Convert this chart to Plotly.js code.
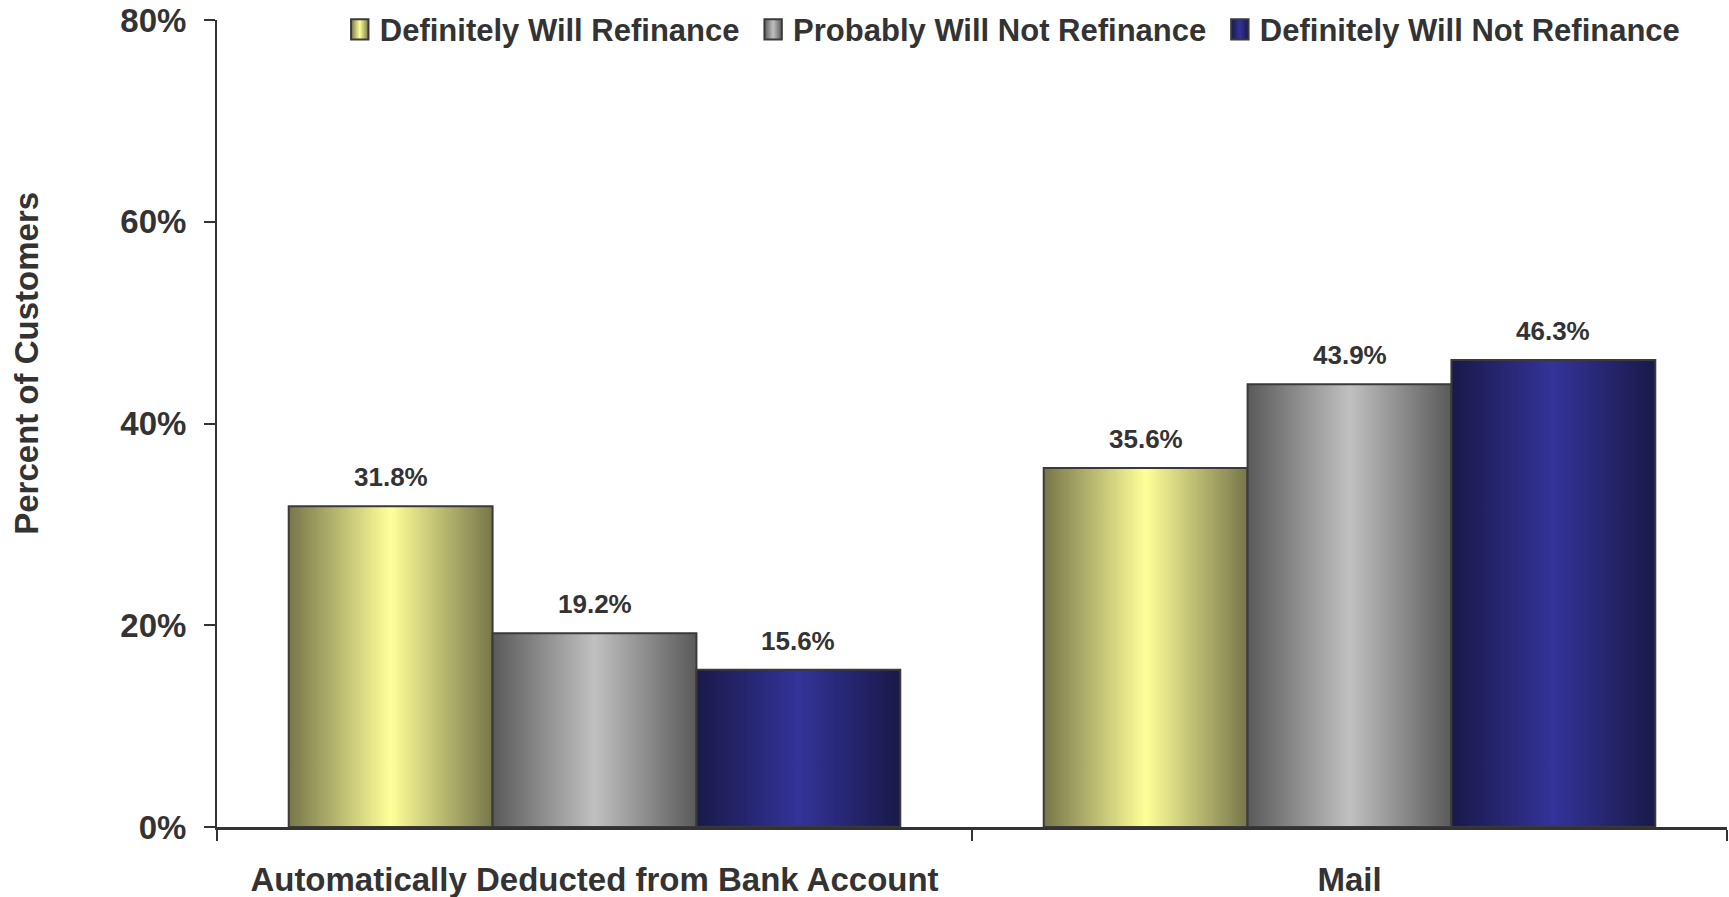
<!DOCTYPE html>
<html>
<head>
<meta charset="utf-8">
<script src="https://cdn.plot.ly/plotly-3.0.1.min.js"></script>
<style>
  html, body { margin: 0; padding: 0; background: #ffffff; }
  #chart { width: 1729px; height: 897px; }
</style>
</head>
<body>
<div id="chart"></div>
<script>
// ---- Data ----
const categories = ["Automatically Deducted from Bank Account", "Mail"];
const seriesNames = ["Definitely Will Refinance", "Probably Will Not Refinance", "Definitely Will Not Refinance"];
const definitelyWill = [31.8, 35.6];
const probablyWillNot = [19.2, 43.9];
const definitelyWillNot = [15.6, 46.3];
const yTickValues = [0, 20, 40, 60, 80];

// ---- Styles ----
const seriesValues = [definitelyWill, probablyWillNot, definitelyWillNot];
const baseColors = ["#FFFF99", "#C0C0C0", "#333399"];
const gradientStops = [
  ["#76764A", "#FFFF99", "#76764A"],
  ["#5A5A5A", "#C0C0C0", "#5A5A5A"],
  ["#191949", "#333399", "#191949"]
];
const FONT = "'Liberation Sans', Arial, Helvetica, sans-serif";
const TEXT = "#333333";
const bargap = 0.19;

const traces = seriesValues.map((vals, i) => ({
  type: "bar",
  name: seriesNames[i] + (i < seriesValues.length - 1 ? "\u00a0" : ""),
  x: categories,
  y: vals,
  marker: { color: baseColors[i], line: { color: "#3a3a3a", width: 2 } },
  hoverinfo: "none"
}));

// data labels above bars
const barW = (1 - bargap) / seriesValues.length;
const annotations = [];
seriesValues.forEach((vals, s) => {
  vals.forEach((v, ci) => {
    annotations.push({
      xref: "x", yref: "y",
      x: ci + (s - (seriesValues.length - 1) / 2) * barW,
      y: v,
      yshift: 29,
      yanchor: "middle",
      text: "<b>" + v.toFixed(1) + "%</b>",
      showarrow: false,
      font: { family: FONT, size: 26, color: TEXT }
    });
  });
});
// y axis title
annotations.push({
  xref: "paper", yref: "paper",
  x: 0, xshift: -190, xanchor: "center",
  y: 0.574, yanchor: "middle",
  textangle: -90,
  text: "<b>Percent of Customers</b>",
  showarrow: false,
  font: { family: FONT, size: 33, color: TEXT }
});

const layout = {
  width: 1729, height: 897,
  margin: { l: 217, r: 2, t: 20, b: 70 },
  paper_bgcolor: "#ffffff",
  plot_bgcolor: "#ffffff",
  barmode: "group",
  bargap: bargap,
  bargroupgap: 0,
  font: { family: FONT, color: TEXT },
  showlegend: true,
  legend: {
    orientation: "h",
    x: 0.0813, xanchor: "left",
    y: 0.988, yanchor: "middle",
    font: { family: FONT, size: 31, color: TEXT, weight: "bold" },
    bgcolor: "rgba(0,0,0,0)",
    traceorder: "normal",
    itemclick: false
  },
  xaxis: {
    type: "category",
    tickson: "boundaries",
    ticks: "outside", ticklen: 11, tickwidth: 2, tickcolor: "#333333",
    showline: true, linecolor: "#333333", linewidth: 3,
    showgrid: false, zeroline: false,
    tickfont: { family: FONT, size: 33, color: TEXT, weight: "bold" },
    ticklabelstandoff: 21
  },
  yaxis: {
    range: [0, 80],
    tickvals: yTickValues,
    ticktext: yTickValues.map(v => v + "%"),
    ticks: "outside", ticklen: 11, tickwidth: 2, tickcolor: "#333333",
    showline: true, linecolor: "#333333", linewidth: 2,
    showgrid: false, zeroline: false,
    tickfont: { family: FONT, size: 33, color: TEXT, weight: "bold" },
    ticklabelstandoff: 11
  },
  annotations: annotations
};

const gd = document.getElementById("chart");
Plotly.newPlot(gd, traces, layout, { displayModeBar: false, staticPlot: true }).then(() => {
  const svgNS = "http://www.w3.org/2000/svg";
  const svg = gd.querySelector("svg.main-svg");
  let defs = svg.querySelector("defs");
  if (!defs) { defs = document.createElementNS(svgNS, "defs"); svg.insertBefore(defs, svg.firstChild); }
  gradientStops.forEach((stops, i) => {
    const g = document.createElementNS(svgNS, "linearGradient");
    g.setAttribute("id", "barGrad" + i);
    g.setAttribute("x1", "0"); g.setAttribute("y1", "0");
    g.setAttribute("x2", "1"); g.setAttribute("y2", "0");
    stops.forEach((c, k) => {
      const st = document.createElementNS(svgNS, "stop");
      st.setAttribute("offset", String(k / (stops.length - 1)));
      st.setAttribute("stop-color", c);
      g.appendChild(st);
    });
    defs.appendChild(g);
  });
  const barTraces = gd.querySelectorAll(".barlayer .trace");
  barTraces.forEach((t, i) => {
    t.querySelectorAll("path").forEach(p => { p.style.fill = "url(#barGrad" + i + ")"; });
  });
  const legendItems = gd.querySelectorAll(".legend .traces");
  legendItems.forEach((t, i) => {
    t.querySelectorAll(".legendpoints path").forEach(p => {
      p.style.fill = "url(#barGrad" + i + ")";
      const prev = p.getAttribute("transform") || "";
      p.setAttribute("transform", (prev + " scale(1.45,1.7)").trim());
      p.style.vectorEffect = "non-scaling-stroke";
    });
  });
});
</script>
</body>
</html>
